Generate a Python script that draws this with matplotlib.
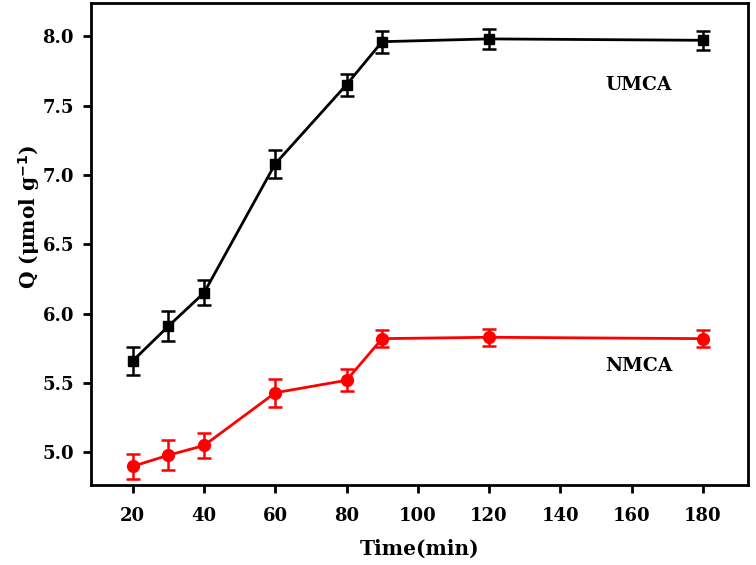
import matplotlib.pyplot as plt

# adsorption amount vs time
time = [20, 30, 40, 60, 80, 90, 120, 180]
umca = [5.66, 5.91, 6.15, 7.08, 7.65, 7.96, 7.98, 7.97]
umca_err = [0.10, 0.11, 0.09, 0.10, 0.08, 0.08, 0.07, 0.07]
nmca = [4.90, 4.98, 5.05, 5.43, 5.52, 5.82, 5.83, 5.82]
nmca_err = [0.09, 0.11, 0.09, 0.10, 0.08, 0.06, 0.06, 0.06]

plt.rcParams['font.family'] = ['DejaVu Serif']
plt.rcParams['font.weight'] = 'bold'

fig = plt.figure(figsize=(7.56, 5.65), dpi=100)
ax = fig.add_axes([0.120, 0.142, 0.869, 0.853])

ax.errorbar(time, umca, yerr=umca_err, color='black', marker='s', markersize=7.5,
            linewidth=2, elinewidth=1.8, capsize=5, capthick=1.8)
ax.errorbar(time, nmca, yerr=nmca_err, color='#ff0000', marker='o', markersize=8.5,
            linewidth=2, elinewidth=1.8, capsize=5, capthick=1.8)

ax.text(162, 7.65, 'UMCA', ha='center', va='center', fontsize=13.5, fontweight='bold')
ax.text(162, 5.62, 'NMCA', ha='center', va='center', fontsize=13.5, fontweight='bold')

ax.set_xlim(8.2, 192.6)
ax.set_ylim(4.767, 8.24)
ax.set_xticks(range(20, 181, 20))
ax.set_yticks([5.0, 5.5, 6.0, 6.5, 7.0, 7.5, 8.0])
ax.set_yticklabels(['5.0', '5.5', '6.0', '6.5', '7.0', '7.5', '8.0'])

ax.set_xlabel('Time(min)', fontsize=14.5, fontweight='bold', labelpad=10)
ax.set_ylabel('Q (μmol g$^{\\mathbf{-1}}$)', fontsize=14.5, fontweight='bold')
ax.yaxis.set_label_coords(-0.074, 0.556)

for s in ax.spines.values():
    s.set_linewidth(2)
ax.tick_params(axis='both', labelsize=13, width=2, length=6, direction='out')
ax.tick_params(axis='x', pad=10)
ax.tick_params(axis='y', pad=6)

fig.savefig('out.png', dpi=100)
